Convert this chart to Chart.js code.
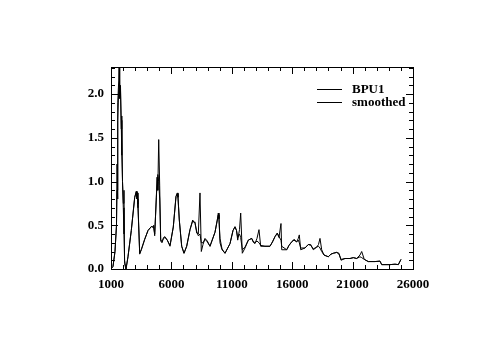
<!DOCTYPE html>
<html>
<head>
<meta charset="utf-8">
<script src="https://cdn.jsdelivr.net/npm/chart.js@4.4.0/dist/chart.umd.min.js"></script>
<style>
  html, body { margin: 0; padding: 0; background: #fff; }
</style>
</head>
<body>
<canvas id="grafico" width="482" height="337"></canvas>
<script>
// energy axis (shared by both curves)
const energy = [1000, 1166, 1331, 1455, 1497, 1538, 1579, 1637, 1679, 1720, 1786, 1844, 1894, 1952, 2018, 2076,
  2125, 2242, 2407, 2680, 2963, 3094, 3152, 3194, 3235, 3376, 3508, 3790, 4063, 4336, 4477, 4535, 4617, 4750,
  4824, 4874, 4949, 5031, 5114, 5222, 5346, 5470, 5660, 5884, 6157, 6381, 6488, 6546, 6654, 6852, 7043, 7266,
  7540, 7763, 7871, 7954, 8094, 8227, 8367, 8475, 8616, 8781, 8972, 9195, 9609, 9799, 9882, 9940, 10023, 10189,
  10437, 10851, 11100, 11265, 11390, 11489, 11638, 11737, 11870, 12093, 12366, 12647, 12755, 12920, 13086, 13251,
  13392, 13748, 14162, 14369, 14576, 14766, 14907, 15072, 15130, 15544, 15734, 15958, 16148, 16372, 16505, 16588,
  16703, 17059, 17333, 17531, 17747, 18028, 18177, 18301, 18442, 18632, 18988, 19212, 19402, 19684, 19874, 20040,
  20371, 20785, 21058, 21340, 21612, 21753, 21968, 22299, 22854, 23268, 23409, 24096, 24510, 24783, 25006];

const bpu1 = [0.00, 0.03, 0.2, 0.5, 1.2, 0.8, 1.9, 2.15, 2.6, 1.95, 2.1, 1.6, 1.75, 1.0, 0.75, 0.9,
  0.06, 0.0, 0.14, 0.44, 0.82, 0.89, 0.8, 0.87, 0.74, 0.17, 0.22, 0.34, 0.44, 0.485, 0.48, 0.5, 0.38, 0.82,
  1.05, 0.9, 1.48, 0.95, 0.32, 0.3, 0.36, 0.37, 0.33, 0.26, 0.48, 0.83, 0.87, 0.82, 0.56, 0.26, 0.18, 0.26,
  0.45, 0.56, 0.53, 0.54, 0.41, 0.4, 0.87, 0.2, 0.28, 0.35, 0.32, 0.26, 0.42, 0.56, 0.64, 0.58, 0.3, 0.22,
  0.18, 0.29, 0.44, 0.485, 0.44, 0.33, 0.45, 0.64, 0.18, 0.24, 0.33, 0.35, 0.31, 0.29, 0.35, 0.45,
  0.26, 0.26, 0.26, 0.31, 0.37, 0.41, 0.36, 0.52, 0.22, 0.22, 0.27, 0.31, 0.34, 0.31, 0.35, 0.39,
  0.22, 0.24, 0.28, 0.28, 0.22, 0.25, 0.28, 0.35, 0.22, 0.16, 0.14, 0.17, 0.18, 0.19, 0.18, 0.1,
  0.12, 0.12, 0.13, 0.12, 0.16, 0.2, 0.11, 0.085, 0.085, 0.09, 0.05, 0.05, 0.055, 0.05, 0.11];

const smoothed = [0.00, 0.03, 0.2, 0.5, 0.9, 1.2, 1.7, 2.05, 2.1, 2.0, 2.05, 1.7, 1.3, 1.0, 0.7, 0.4,
  0.1, 0.0, 0.14, 0.44, 0.82, 0.88, 0.84, 0.8, 0.7, 0.18, 0.22, 0.34, 0.44, 0.485, 0.48, 0.47, 0.4, 0.8,
  1.05, 1.08, 1.0, 0.8, 0.34, 0.31, 0.35, 0.36, 0.33, 0.27, 0.48, 0.83, 0.86, 0.82, 0.56, 0.26, 0.18, 0.26,
  0.45, 0.55, 0.54, 0.52, 0.43, 0.38, 0.4, 0.3, 0.3, 0.34, 0.31, 0.26, 0.42, 0.56, 0.62, 0.57, 0.35, 0.23,
  0.18, 0.29, 0.44, 0.48, 0.44, 0.36, 0.4, 0.36, 0.22, 0.25, 0.33, 0.35, 0.32, 0.3, 0.32, 0.3,
  0.27, 0.26, 0.26, 0.31, 0.37, 0.41, 0.37, 0.33, 0.26, 0.22, 0.27, 0.31, 0.33, 0.31, 0.33, 0.3,
  0.24, 0.24, 0.28, 0.27, 0.23, 0.25, 0.26, 0.24, 0.2, 0.16, 0.14, 0.17, 0.18, 0.19, 0.17, 0.11,
  0.12, 0.12, 0.13, 0.12, 0.14, 0.13, 0.11, 0.085, 0.085, 0.09, 0.05, 0.05, 0.055, 0.05, 0.11];

const xTickValues = [1000, 6000, 11000, 16000, 21000, 26000];
const yTickValues = [0, 0.5, 1.0, 1.5, 2.0];

const labelFont = { family: "'Liberation Serif', 'DejaVu Serif', serif", size: 13, weight: 'bold' };

// box frame with inward ticks on all four sides + legend inside the plot
const frameAndTicks = {
  id: 'frameAndTicks',
  afterDraw(chart) {
    const { ctx, chartArea: a, scales } = chart;
    const sx = scales.x, sy = scales.y;
    ctx.save();
    ctx.strokeStyle = '#000';
    ctx.lineWidth = 1;
    ctx.strokeRect(Math.round(a.left) + 0.5, Math.round(a.top) + 0.5,
      Math.round(a.right - a.left), Math.round(a.bottom - a.top));

    ctx.beginPath();
    for (let v = sx.min; v <= sx.max; v += 1000) {
      const px = Math.round(sx.getPixelForValue(v)) + 0.5;
      const len = (v - 1000) % 5000 === 0 ? 7 : 4;
      ctx.moveTo(px, a.bottom); ctx.lineTo(px, a.bottom - len);
      ctx.moveTo(px, a.top); ctx.lineTo(px, a.top + len);
    }
    for (let i = 0; i <= 23; i++) {
      const v = i / 10;
      const py = Math.round(sy.getPixelForValue(v)) + 0.5;
      const len = i % 5 === 0 ? 7 : 4;
      ctx.moveTo(a.left, py); ctx.lineTo(a.left + len, py);
      ctx.moveTo(a.right, py); ctx.lineTo(a.right - len, py);
    }
    ctx.stroke();

    // legend
    ctx.font = `bold ${labelFont.size}px ${labelFont.family}`;
    ctx.fillStyle = '#000';
    ctx.textBaseline = 'middle';
    chart.data.datasets.forEach((ds, i) => {
      const y = 89.5 + i * 13;
      ctx.beginPath();
      ctx.moveTo(317, y); ctx.lineTo(342, y);
      ctx.stroke();
      ctx.fillText(ds.label, 352, y);
    });
    ctx.restore();
  }
};

const toPoints = ys => energy.map((x, i) => ({ x, y: ys[i] }));

new Chart(document.getElementById('grafico'), {
  type: 'scatter',
  data: {
    datasets: [
      { label: 'BPU1', data: toPoints(bpu1), showLine: true, borderColor: '#000', borderWidth: 1, pointRadius: 0 },
      { label: 'smoothed', data: toPoints(smoothed), showLine: true, borderColor: '#000', borderWidth: 1, pointRadius: 0 }
    ]
  },
  options: {
    responsive: false,
    animation: false,
    layout: { padding: { top: 67, right: 69, left: 0, bottom: 0 } },
    plugins: { legend: { display: false }, tooltip: { enabled: false } },
    scales: {
      x: {
        type: 'linear', min: 1000, max: 26000,
        grid: { display: false, drawTicks: false },
        border: { display: false },
        afterBuildTicks: s => { s.ticks = xTickValues.map(v => ({ value: v })); },
        afterFit: s => { s.height = 68; },
        ticks: { color: '#000', font: labelFont, padding: 8, maxRotation: 0, autoSkip: false, callback: v => String(v) }
      },
      y: {
        type: 'linear', min: 0, max: 2.31,
        grid: { display: false, drawTicks: false },
        border: { display: false },
        afterBuildTicks: s => { s.ticks = yTickValues.map(v => ({ value: v })); },
        afterFit: s => { s.width = 111; },
        ticks: { color: '#000', font: labelFont, padding: 7, callback: v => v.toFixed(1) }
      }
    }
  },
  plugins: [frameAndTicks]
});
</script>
</body>
</html>
